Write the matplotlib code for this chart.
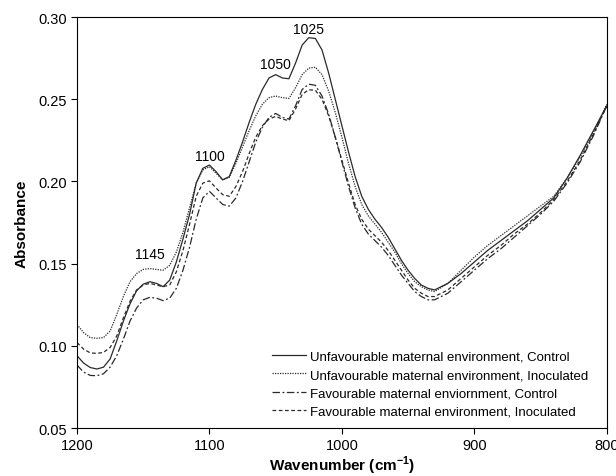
import matplotlib
matplotlib.use("Agg")
import matplotlib.pyplot as plt

plt.rcParams['font.family'] = ['Liberation Sans', 'DejaVu Sans']
plt.rcParams['mathtext.fontset'] = 'custom'
plt.rcParams['mathtext.rm'] = 'Liberation Sans'
plt.rcParams['mathtext.bf'] = 'Liberation Sans:bold'

# wavenumbers (cm-1), 5 steps through the bands, 10 steps on the flat tail
wavenumber = [1200, 1195, 1190, 1185, 1180, 1175, 1170, 1165, 1160, 1155,
              1150, 1145, 1140, 1135, 1130, 1125, 1120, 1115, 1110, 1105,
              1100, 1095, 1090, 1085, 1080, 1075, 1070, 1065, 1060, 1055,
              1050, 1045, 1040, 1035, 1030, 1025, 1020, 1015, 1010, 1005,
              1000, 995, 990, 985, 980, 975, 970, 965, 960, 955,
              950, 945, 940, 935, 930, 920, 910, 900, 890, 880,
              870, 860, 850, 840, 830, 820, 810, 800]

unfav_control = [0.094, 0.0895, 0.0868, 0.0859, 0.0870, 0.092, 0.103, 0.115, 0.1255, 0.1335,
                 0.1375, 0.139, 0.138, 0.136, 0.140, 0.151, 0.165, 0.180, 0.199, 0.208,
                 0.210, 0.206, 0.201, 0.203, 0.213, 0.224, 0.236, 0.247, 0.256, 0.263,
                 0.265, 0.263, 0.2625, 0.272, 0.283, 0.2875, 0.287, 0.280, 0.266, 0.250,
                 0.234, 0.218, 0.203, 0.191, 0.183, 0.177, 0.172, 0.166, 0.159, 0.152,
                 0.146, 0.141, 0.137, 0.135, 0.134, 0.138, 0.144, 0.151, 0.158, 0.164,
                 0.170, 0.176, 0.183, 0.190, 0.202, 0.216, 0.231, 0.246]

unfav_inoc = [0.113, 0.108, 0.105, 0.1046, 0.105, 0.109, 0.119, 0.130, 0.139, 0.144,
              0.1465, 0.147, 0.1465, 0.146, 0.149, 0.157, 0.169, 0.184, 0.199, 0.207,
              0.209, 0.205, 0.201, 0.2025, 0.211, 0.221, 0.231, 0.240, 0.247, 0.251,
              0.252, 0.251, 0.2505, 0.257, 0.265, 0.269, 0.2695, 0.265, 0.255, 0.242,
              0.227, 0.211, 0.197, 0.186, 0.179, 0.174, 0.169, 0.163, 0.157, 0.150,
              0.144, 0.139, 0.136, 0.134, 0.133, 0.138, 0.146, 0.154, 0.161, 0.167,
              0.173, 0.179, 0.185, 0.191, 0.202, 0.215, 0.230, 0.247]

fav_control = [0.0883, 0.084, 0.082, 0.0818, 0.083, 0.087, 0.094, 0.104, 0.115, 0.123,
               0.128, 0.1295, 0.129, 0.1275, 0.129, 0.135, 0.146, 0.160, 0.177, 0.190,
               0.194, 0.190, 0.186, 0.185, 0.190, 0.200, 0.212, 0.224, 0.233, 0.239,
               0.2414, 0.239, 0.238, 0.246, 0.256, 0.2592, 0.2585, 0.252, 0.241, 0.227,
               0.212, 0.197, 0.184, 0.174, 0.168, 0.164, 0.160, 0.155, 0.149, 0.143,
               0.138, 0.133, 0.130, 0.128, 0.128, 0.132, 0.139, 0.146, 0.153, 0.159,
               0.166, 0.173, 0.180, 0.188, 0.199, 0.212, 0.228, 0.246]

fav_inoc = [0.102, 0.098, 0.0957, 0.0954, 0.096, 0.099, 0.106, 0.117, 0.127, 0.134,
            0.137, 0.138, 0.137, 0.136, 0.137, 0.145, 0.158, 0.174, 0.191, 0.199,
            0.2004, 0.196, 0.192, 0.191, 0.197, 0.206, 0.217, 0.227, 0.234, 0.238,
            0.2396, 0.238, 0.237, 0.244, 0.253, 0.2558, 0.2555, 0.250, 0.240, 0.227,
            0.213, 0.199, 0.186, 0.177, 0.171, 0.167, 0.163, 0.158, 0.152, 0.146,
            0.140, 0.135, 0.132, 0.130, 0.130, 0.134, 0.141, 0.148, 0.155, 0.161,
            0.168, 0.174, 0.181, 0.189, 0.200, 0.213, 0.229, 0.246]

labels = ["Unfavourable maternal environment, Control",
          "Unfavourable maternal environment, Inoculated",
          "Favourable maternal enviornment, Control",
          "Favourable maternal environment, Inoculated"]

bands = [1145, 1100, 1050, 1025]
band_y = [0.1515, 0.2115, 0.2672, 0.2888]

fig = plt.figure(figsize=(6.16, 4.77), dpi=100)
ax = fig.add_axes([0.125, 0.1006, 0.86, 0.8614])

ink = '#2a2a2a'
ax.plot(wavenumber, unfav_control, color=ink, lw=0.9, ls='-', label=labels[0])
ax.plot(wavenumber, unfav_inoc, color=ink, lw=0.9, ls=(0, (1, 1)), label=labels[1])
ax.plot(wavenumber, fav_control, color=ink, lw=0.9, ls=(0, (6, 2, 1.5, 2)), label=labels[2])
ax.plot(wavenumber, fav_inoc, color=ink, lw=0.9, ls=(0, (3, 2)), label=labels[3])

for b, y in zip(bands, band_y):
    ax.text(b, y, str(b), ha='center', va='bottom', fontsize=10)

ax.set_xlim(1200, 800)
ax.set_ylim(0.05, 0.30)
ax.set_xticks([1200, 1100, 1000, 900, 800])
ax.set_yticks([0.05, 0.10, 0.15, 0.20, 0.25, 0.30])
ax.set_yticklabels(["%.2f" % v for v in ax.get_yticks()])
ax.tick_params(direction='out', length=4, labelsize=10.5)

ax.set_xlabel(r'Wavenumber (cm$^{\mathbf{-1}}$)', fontsize=11, fontweight='bold', labelpad=1)
ax.set_ylabel('Absorbance', fontsize=11, fontweight='bold', labelpad=7)

ax.legend(loc='lower right', bbox_to_anchor=(0.985, 0.0), frameon=False,
          fontsize=9.5, handlelength=2.6, handletextpad=0.3, labelspacing=0.45,
          borderaxespad=0.4)

fig.savefig("out.png", dpi=100)
